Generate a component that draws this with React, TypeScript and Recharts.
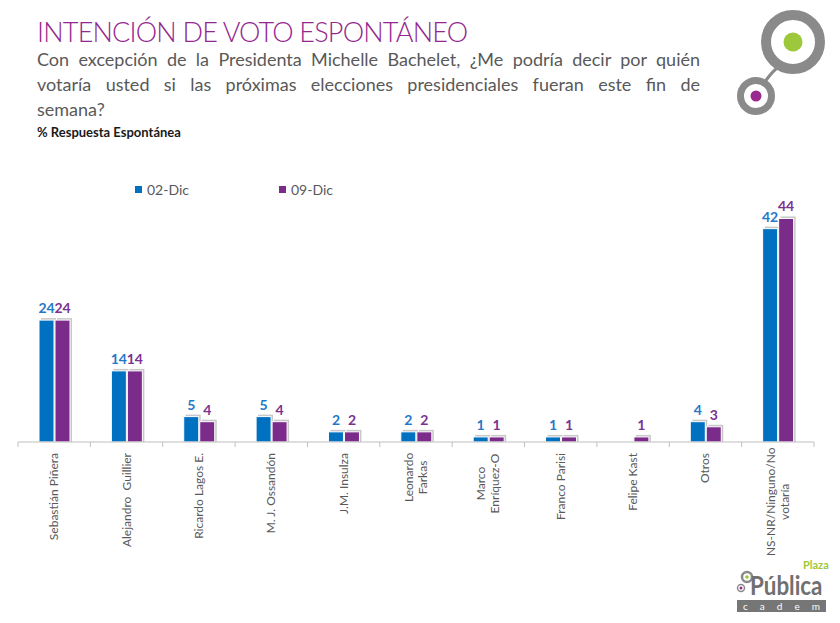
import { BarChart, Bar, XAxis, YAxis, LabelList, Legend } from 'recharts';

const candidates = [
  'Sebastián Piñera',
  'Alejandro  Guillier',
  'Ricardo Lagos E.',
  'M. J. Ossandón',
  'J.M. Insulza',
  'Leonardo\nFarkas',
  'Marco\nEnríquez-O',
  'Franco Parisi',
  'Felipe Kast',
  'Otros',
  'NS-NR/Ninguno/No\nvotaría',
];
const dic02 = [24, 14, 5, 5, 2, 2, 1, 1, null, 4, 42];
const dic09 = [24, 14, 4, 4, 2, 2, 1, 1, 1, 3, 44];

const data = candidates.map((name, i) => ({ name, d02: dic02[i], d09: dic09[i] }));

const W = 840;
const H = 623;
const M = { top: 188, right: 26, left: 18, bottom: 61 };
const BAND = (W - M.left - M.right) / candidates.length;
const FONT = 'Lato, "Open Sans", sans-serif';
const GREY_TEXT = '#595959';
const BLUE = '#0070C0';
const PURPLE = '#7B2C8B';

const ShadowBar = (props: any) => {
  const { x, y, width, height, fill } = props;
  if (!height || height <= 0) return null;
  return (
    <g>
      <rect x={x + 2} y={y - 2} width={width} height={height + 2} fill="#c8c8c8" />
      <rect x={x} y={y} width={width} height={height} fill={fill} stroke="#ffffff" strokeWidth={1} />
    </g>
  );
};

const AxisTick = (props: any) => {
  const { x, y, payload, index } = props;
  const lines: string[] = String(payload.value).split('\n');
  const n = lines.length;
  const longest = Math.max(...lines.map((l) => l.length)) * 6.1;
  const top = y + 11;
  return (
    <g>
      <line x1={x - BAND / 2} x2={x - BAND / 2} y1={y} y2={y + 5} stroke="#bfbfbf" />
      {index === candidates.length - 1 && (
        <line x1={x + BAND / 2} x2={x + BAND / 2} y1={y} y2={y + 5} stroke="#bfbfbf" />
      )}
      {lines.map((l, i) => {
        const lx = x + 4 + (i - (n - 1) / 2) * 14;
        const ly = n > 1 ? top + longest / 2 : top;
        return (
          <text
            key={i}
            transform={`translate(${lx},${ly}) rotate(-90)`}
            textAnchor={n > 1 ? 'middle' : 'end'}
            fontSize={12}
            fill={GREY_TEXT}
            fontFamily={FONT}
            style={{ whiteSpace: 'pre' }}
          >
            {l}
          </text>
        );
      })}
    </g>
  );
};

const renderLegend = (props: any) => {
  const { payload } = props;
  return (
    <div style={{ display: 'flex', fontFamily: FONT, fontSize: 14, color: GREY_TEXT }}>
      {payload.map((p: any, i: number) => (
        <div key={i} style={{ display: 'flex', alignItems: 'center', width: 144 }}>
          <span style={{ width: 7, height: 7, background: p.color, marginRight: 5, display: 'inline-block' }} />
          {p.value}
        </div>
      ))}
    </div>
  );
};

const PlazaLogoTop = () => (
  <svg width={110} height={125} style={{ position: 'absolute', left: 730, top: 0 }}>
    <g transform="translate(-730,0)">
      <path d="M762 86 Q770 74 777 68" fill="none" stroke="#8a8a8a" strokeWidth={3} />
      <circle cx={793} cy={42} r={27} fill="#fff" stroke="#8a8a8a" strokeWidth={10} />
      <circle cx={793} cy={42} r={9.5} fill="#9dc83b" />
      <circle cx={756} cy={96} r={15.5} fill="#fff" stroke="#8a8a8a" strokeWidth={7} />
      <circle cx={756} cy={96} r={5.5} fill="#9b2a8f" />
    </g>
  </svg>
);

const PlazaLogoBottom = () => (
  <div style={{ position: 'absolute', left: 735, top: 560, width: 95, height: 55 }}>
    <svg width={20} height={30} style={{ position: 'absolute', left: 0, top: 10 }}>
      <circle cx={12} cy={7} r={5} fill="#fff" stroke="#8a8a8a" strokeWidth={2.5} />
      <circle cx={12} cy={7} r={1.8} fill="#9dc83b" />
      <circle cx={6} cy={18} r={3.5} fill="#fff" stroke="#8a8a8a" strokeWidth={1.5} />
      <circle cx={6} cy={18} r={1.5} fill="#9b2a8f" />
    </svg>
    <div
      style={{
        position: 'absolute',
        left: 68,
        top: 0,
        fontFamily: FONT,
        fontSize: 11,
        lineHeight: '9px',
        fontWeight: 700,
        color: '#9dc83b',
      }}
    >
      Plaza
    </div>
    <div
      style={{
        position: 'absolute',
        left: 15,
        top: 13,
        fontFamily: FONT,
        fontSize: 26,
        fontWeight: 700,
        color: '#707070',
        lineHeight: '24px',
        transform: 'scaleX(0.86)',
        transformOrigin: 'left top',
        whiteSpace: 'nowrap',
      }}
    >
      Pública
    </div>
    <div
      style={{
        position: 'absolute',
        left: 2,
        top: 40,
        width: 89,
        height: 12,
        background: '#767676',
        color: '#fff',
        fontFamily: FONT,
        fontSize: 10,
        lineHeight: '12px',
        display: 'flex',
        justifyContent: 'space-around',
      }}
    >
      <span>c</span>
      <span>a</span>
      <span>d</span>
      <span>e</span>
      <span>m</span>
    </div>
  </div>
);

const lineStyle: any = {
  textAlign: 'justify',
  textAlignLast: 'justify',
  width: 663,
  height: 25,
  lineHeight: '25px',
};

export default function App() {
  return (
    <div style={{ position: 'absolute', left: 0, top: 0, width: W, height: H, background: '#fff', overflow: 'hidden' }}>
      <div style={{ position: 'absolute', left: 0, top: 0 }}>
        <BarChart width={W} height={H} data={data} margin={M} barSize={15} barGap={1}>
          <XAxis
            dataKey="name"
            interval={0}
            height={120}
            tickLine={false}
            tickSize={0}
            tickMargin={0}
            axisLine={{ stroke: '#bfbfbf' }}
            tick={<AxisTick />}
          />
          <YAxis hide domain={[0, 50]} />
          <Legend
            layout="horizontal"
            verticalAlign="middle"
            align="center"
            content={renderLegend}
            wrapperStyle={{ position: 'absolute', top: 181, left: 135, width: 300 }}
          />
          <Bar dataKey="d02" name="02-Dic" fill={BLUE} shape={<ShadowBar />} isAnimationActive={false}>
            <LabelList dataKey="d02" position="top" offset={7} fill="#1F78C8" fontSize={14} fontWeight={700} fontFamily={FONT} />
          </Bar>
          <Bar dataKey="d09" name="09-Dic" fill={PURPLE} shape={<ShadowBar />} isAnimationActive={false}>
            <LabelList dataKey="d09" position="top" offset={7} fill="#7A3290" fontSize={14} fontWeight={700} fontFamily={FONT} />
          </Bar>
        </BarChart>
      </div>

      <div style={{ position: 'absolute', left: 37, top: 14, fontFamily: FONT, color: '#92278F' }}>
        <div style={{ fontSize: 27, lineHeight: '36px', letterSpacing: -0.8, fontWeight: 300 }}>
          INTENCIÓN DE VOTO ESPONTÁNEO
        </div>
      </div>
      <div style={{ position: 'absolute', left: 37, top: 47, fontFamily: FONT, fontSize: 18, color: GREY_TEXT }}>
        <div style={lineStyle}>Con excepción de la Presidenta Michelle Bachelet, ¿Me podría decir por quién</div>
        <div style={lineStyle}>votaría usted si las próximas elecciones presidenciales fueran este fin de</div>
        <div style={{ ...lineStyle, textAlignLast: 'left' }}>semana?</div>
      </div>
      <div
        style={{
          position: 'absolute',
          left: 37,
          top: 124,
          fontFamily: FONT,
          fontSize: 13,
          fontWeight: 700,
          color: '#1a1a1a',
        }}
      >
        % Respuesta Espontánea
      </div>

      <PlazaLogoTop />
      <PlazaLogoBottom />
    </div>
  );
}
